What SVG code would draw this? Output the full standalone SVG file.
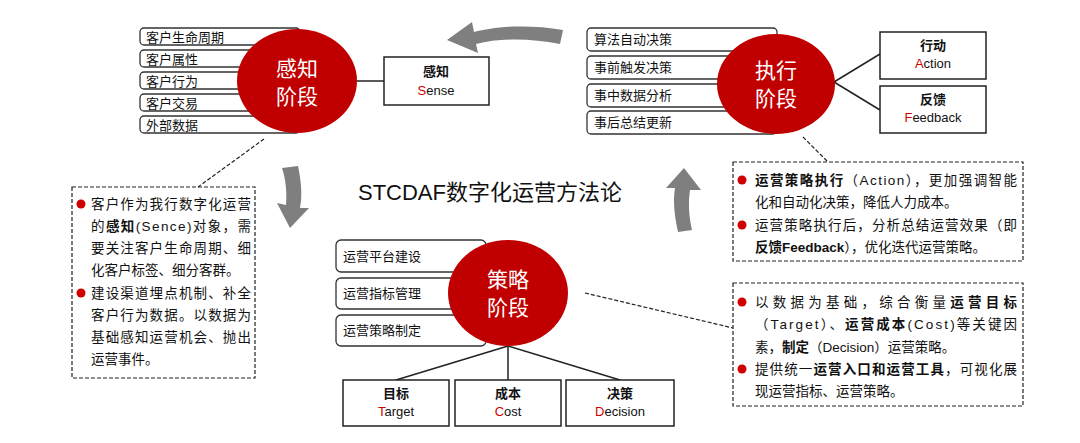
<svg xmlns="http://www.w3.org/2000/svg" width="1080" height="443" viewBox="0 0 1080 443">
<style>
text{font-family:"Liberation Sans","Noto Sans CJK SC",sans-serif;fill:#111}
.pill{fill:#fff;stroke:#333;stroke-width:1.3}
.pt{font-size:13px}
.circ{fill:#c00000}
.ct{font-size:21px;fill:#fff;text-anchor:middle}
.box{fill:#fff;stroke:#222;stroke-width:1.5}
.bt{font-size:13px;text-anchor:middle}
.r{fill:#d00000}
.dash{fill:none;stroke:#222;stroke-width:1.2;stroke-dasharray:4,2}
.ln{stroke:#222;stroke-width:1.5;fill:none}
.nt{font-size:13.5px}
.b{font-weight:bold}
.arr{fill:#7f7f7f}
</style>
<g id="connectors">
<line class="ln" x1="357" y1="81" x2="384" y2="81"/>
<line class="ln" x1="834" y1="82" x2="880" y2="54"/>
<line class="ln" x1="834" y1="82" x2="880" y2="110"/>
<line class="ln" x1="508" y1="346" x2="396" y2="380"/>
<line class="ln" x1="508" y1="346" x2="508" y2="380"/>
<line class="ln" x1="508" y1="346" x2="620" y2="380"/>
<line class="dash" x1="264" y1="139" x2="198" y2="187"/>
<line class="dash" x1="803" y1="137" x2="828" y2="162"/>
<line class="dash" x1="585" y1="293" x2="733" y2="328"/>
</g>
<g id="flow-arrows">
<path class="arr" d="M563,30 C530,24 495,26 474,32 L472,22 L447,40 L478,53 L476,44 C500,38 530,38 560,44 Z"/>
<path class="arr" d="M282,168 L298,166 C302,185 302,198 300,208 L309,208 L290,228 L277,203 L286,205 C287,193 286,180 282,168 Z"/>
<path class="arr" d="M692,230 L678,232 C674,214 673,200 675,188 L666,188 L684,168 L701,190 L690,190 C688,203 689,217 692,230 Z"/>
</g>
<g id="title"><text x="490" y="200" font-size="22" text-anchor="middle">STCDAF数字化运营方法论</text></g>
<g id="sense-items">
<rect class="pill" x="140" y="28" width="160" height="17" rx="4"/><text class="pt" x="146" y="42">客户生命周期</text>
<rect class="pill" x="140" y="50" width="160" height="17" rx="4"/><text class="pt" x="146" y="64">客户属性</text>
<rect class="pill" x="140" y="72" width="160" height="17" rx="4"/><text class="pt" x="146" y="86">客户行为</text>
<rect class="pill" x="140" y="94" width="160" height="17" rx="4"/><text class="pt" x="146" y="108">客户交易</text>
<rect class="pill" x="140" y="116" width="160" height="17" rx="4"/><text class="pt" x="146" y="130">外部数据</text>
</g>
<g id="sense"><ellipse class="circ" cx="297" cy="81" rx="60" ry="52"/><text class="ct" x="297" y="76">感知</text><text class="ct" x="297" y="104">阶段</text></g>
<g id="sense-box"><rect class="box" x="384" y="57" width="105" height="48"/><text class="bt b" x="436" y="76">感知</text><text class="bt" x="436" y="95"><tspan class="r">S</tspan>ense</text></g>
<g id="exec-items">
<rect class="pill" x="587" y="28" width="190" height="23" rx="4"/><text class="pt" x="594" y="44">算法自动决策</text>
<rect class="pill" x="587" y="56" width="190" height="23" rx="4"/><text class="pt" x="594" y="72">事前触发决策</text>
<rect class="pill" x="587" y="84" width="190" height="23" rx="4"/><text class="pt" x="594" y="100">事中数据分析</text>
<rect class="pill" x="587" y="111" width="190" height="23" rx="4"/><text class="pt" x="594" y="127">事后总结更新</text>
</g>
<g id="exec"><ellipse class="circ" cx="776" cy="84" rx="59" ry="50"/><text class="ct" x="776" y="78">执行</text><text class="ct" x="776" y="106">阶段</text></g>
<g id="action-box"><rect class="box" x="880" y="32" width="106" height="47"/><text class="bt b" x="933" y="50">行动</text><text class="bt" x="933" y="68"><tspan class="r">A</tspan>ction</text></g>
<g id="feedback-box"><rect class="box" x="880" y="86" width="106" height="47"/><text class="bt b" x="933" y="104">反馈</text><text class="bt" x="933" y="122"><tspan class="r">F</tspan>eedback</text></g>
<g id="strategy-items">
<rect class="pill" x="336" y="240" width="150" height="32" rx="5"/><text class="pt" x="343" y="261">运营平台建设</text>
<rect class="pill" x="336" y="278" width="150" height="31" rx="5"/><text class="pt" x="343" y="298">运营指标管理</text>
<rect class="pill" x="336" y="315" width="150" height="31" rx="5"/><text class="pt" x="343" y="335">运营策略制定</text>
</g>
<g id="strategy"><ellipse class="circ" cx="508" cy="293" rx="60" ry="53"/><text class="ct" x="508" y="287">策略</text><text class="ct" x="508" y="315">阶段</text></g>
<g id="target-box"><rect class="box" x="343" y="380" width="106" height="46"/><text class="bt b" x="396" y="398">目标</text><text class="bt" x="396" y="416"><tspan class="r">T</tspan>arget</text></g>
<g id="cost-box"><rect class="box" x="455" y="380" width="106" height="46"/><text class="bt b" x="508" y="398">成本</text><text class="bt" x="508" y="416"><tspan class="r">C</tspan>ost</text></g>
<g id="decision-box"><rect class="box" x="566" y="380" width="108" height="46"/><text class="bt b" x="620" y="398">决策</text><text class="bt" x="620" y="416"><tspan class="r">D</tspan>ecision</text></g>
<g id="sense-note">
<rect class="dash" x="72" y="187" width="183" height="191"/>
<circle class="r" cx="81" cy="204" r="4.5"/><circle class="r" cx="81" cy="293" r="4.5"/>
<text class="nt" x="91" y="209" textLength="160">客户作为我行数字化运营</text>
<text class="nt" x="91" y="231" textLength="160">的<tspan class="b">感知</tspan>(Sence)对象，需</text>
<text class="nt" x="91" y="253" textLength="160">要关注客户生命周期、细</text>
<text class="nt" x="91" y="275">化客户标签、细分客群。</text>
<text class="nt" x="91" y="298" textLength="160">建设渠道埋点机制、补全</text>
<text class="nt" x="91" y="320" textLength="160">客户行为数据。以数据为</text>
<text class="nt" x="91" y="342" textLength="160">基础感知运营机会、抛出</text>
<text class="nt" x="91" y="364">运营事件。</text>
</g>
<g id="exec-note">
<rect class="dash" x="733" y="162" width="290" height="99"/>
<circle class="r" cx="742" cy="180" r="4.5"/><circle class="r" cx="742" cy="225" r="4.5"/>
<text class="nt" x="755" y="185" textLength="262"><tspan class="b">运营策略执行</tspan>（Action），更加强调智能</text>
<text class="nt" x="755" y="207">化和自动化决策，降低人力成本。</text>
<text class="nt" x="755" y="230" textLength="262">运营策略执行后，分析总结运营效果（即</text>
<text class="nt" x="755" y="252"><tspan class="b">反馈Feedback</tspan>），优化迭代运营策略。</text>
</g>
<g id="strategy-note">
<rect class="dash" x="733" y="283" width="290" height="123"/>
<circle class="r" cx="742" cy="302" r="4.5"/><circle class="r" cx="742" cy="369" r="4.5"/>
<text class="nt" x="755" y="307" textLength="262">以数据为基础，综合衡量<tspan class="b">运营目标</tspan></text>
<text class="nt" x="755" y="329" textLength="262">（Target）、<tspan class="b">运营成本</tspan>(Cost)等关键因</text>
<text class="nt" x="755" y="352">素，<tspan class="b">制定</tspan>（Decision）运营策略。</text>
<text class="nt" x="755" y="374" textLength="262">提供统一<tspan class="b">运营入口和运营工具</tspan>，可视化展</text>
<text class="nt" x="755" y="396">现运营指标、运营策略。</text>
</g>
</svg>
